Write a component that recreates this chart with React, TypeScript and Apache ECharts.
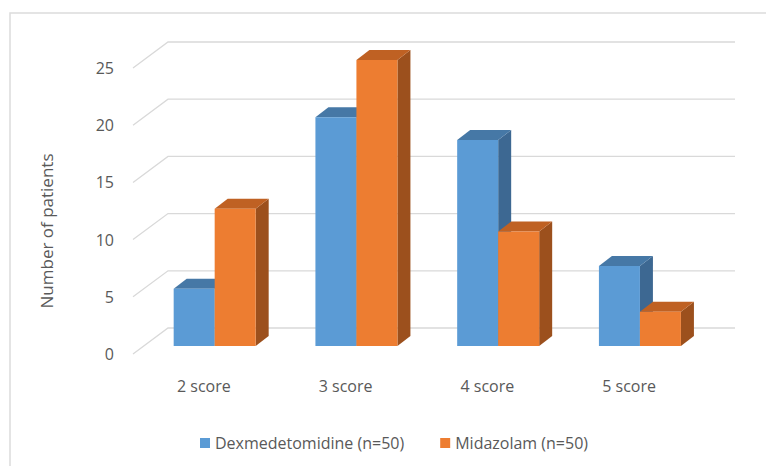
import React, { useEffect, useRef } from "react";
import * as echarts from "echarts";

const categories = ["2 score", "3 score", "4 score", "5 score"];
const dexValues = [5, 20, 18, 7];
const midValues = [12, 25, 10, 3];
const yTicks = [0, 5, 10, 15, 20, 25];
const seriesNames = ["Dexmedetomidine (n=50)", "Midazolam (n=50)"];
const yTitle = "Number of patients";

const FONT = "'Open Sans', sans-serif";
const TEXT = "#595959";
const GRID = "#d9d9d9";
// depth of the floor (px) and bar placement
const DX = 35, DY = -26;
const BAR_W = 41, BAR_DX = 13, BAR_DY = -10;
const BAR_OFF_X = 10.8, BAR_OFF_Y = -8;

const palettes = [
  { front: "#5b9bd5", top: "#4678a6", side: "#3d6892" },
  { front: "#ed7d31", top: "#bf6123", side: "#9c501d" },
];

function makeBarRender(side: number) {
  return (params: any, api: any) => {
    const i = api.value(0);
    const v = api.value(1);
    const base = api.coord([i, 0]);
    const topP = api.coord([i, v]);
    const cx = base[0] + BAR_OFF_X;
    const x0 = cx - BAR_W + side * BAR_W;
    const x1 = x0 + BAR_W;
    const yb = base[1] + BAR_OFF_Y;
    const yt = topP[1] + BAR_OFF_Y;
    const p = palettes[side];
    return {
      type: "group",
      children: [
        {
          type: "polygon",
          shape: { points: [[x1, yt], [x1 + BAR_DX, yt + BAR_DY], [x1 + BAR_DX, yb + BAR_DY], [x1, yb]] },
          style: { fill: p.side },
        },
        {
          type: "polygon",
          shape: { points: [[x0, yt], [x1, yt], [x1 + BAR_DX, yt + BAR_DY], [x0 + BAR_DX, yt + BAR_DY]] },
          style: { fill: p.top },
        },
        {
          type: "rect",
          shape: { x: x0, y: yt, width: BAR_W, height: yb - yt },
          style: { fill: p.front },
        },
      ],
    };
  };
}

export default function App() {
  const ref = useRef<HTMLDivElement>(null);
  useEffect(() => {
    if (!ref.current) return;
    const chart = echarts.init(ref.current, null, { renderer: "svg" });
    chart.setOption({
      animation: false,
      backgroundColor: "#ffffff",
      textStyle: { fontFamily: FONT },
      graphic: [
        {
          type: "rect",
          shape: { x: 10, y: 13, width: 800, height: 500 },
          style: { fill: "none", stroke: "#dcdcdc", lineWidth: 1.5 },
          z: 100,
          silent: true,
        },
        {
          type: "text",
          x: 46,
          y: 231,
          rotation: Math.PI / 2,
          style: {
            text: yTitle,
            fill: TEXT,
            font: `17px ${FONT}`,
            align: "center",
            verticalAlign: "middle",
          },
          silent: true,
        },
      ],
      grid: { left: 133, right: 66, top: 68, bottom: 112 },
      legend: {
        top: 430,
        left: 195,
        itemWidth: 10,
        itemHeight: 10,
        itemGap: 36,
        icon: "rect",
        textStyle: { color: TEXT, fontSize: 16, fontFamily: FONT },
        data: seriesNames,
      },
      xAxis: {
        type: "category",
        data: categories,
        axisLine: { show: false },
        axisTick: { show: false },
        axisLabel: { color: TEXT, fontSize: 16, margin: 24, fontFamily: FONT },
      },
      yAxis: {
        type: "value",
        min: 0,
        max: 25,
        interval: 5,
        axisLine: { show: false },
        axisTick: { show: false },
        splitLine: { show: false },
        axisLabel: { color: TEXT, fontSize: 16, margin: 19, fontFamily: FONT },
      },
      series: [
        {
          type: "custom",
          silent: true,
          z: 1,
          data: yTicks.map((t) => [0, t]),
          renderItem: (params: any, api: any) => {
            const cs = params.coordSys;
            const y = api.coord([0, api.value(1)])[1];
            return {
              type: "polyline",
              shape: {
                points: [
                  [cs.x, y],
                  [cs.x + DX, y + DY],
                  [cs.x + cs.width + DX, y + DY],
                ],
              },
              style: { stroke: GRID, lineWidth: 1.3, fill: "none" },
            };
          },
        },
        {
          name: seriesNames[0],
          type: "custom",
          z: 2,
          itemStyle: { color: palettes[0].front },
          data: dexValues.map((v, i) => [i, v]),
          renderItem: makeBarRender(0),
        },
        {
          name: seriesNames[1],
          type: "custom",
          z: 3,
          itemStyle: { color: palettes[1].front },
          data: midValues.map((v, i) => [i, v]),
          renderItem: makeBarRender(1),
        },
      ],
    });
    return () => chart.dispose();
  }, []);
  return (
    <div
      ref={ref}
      style={{ position: "fixed", left: 0, top: 0, width: 766, height: 466 }}
    />
  );
}
